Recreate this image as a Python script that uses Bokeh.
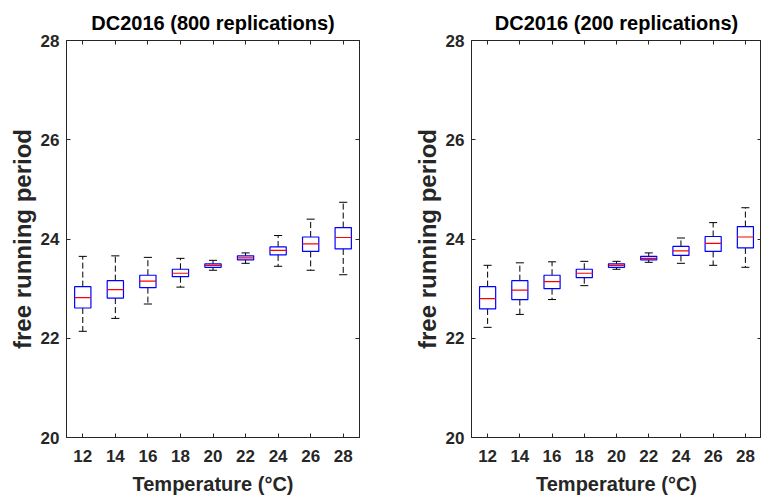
from bokeh.plotting import figure
from bokeh.layouts import row
from bokeh.models import Range1d, FixedTicker, LinearAxis
from bokeh.embed import file_html
from bokeh.resources import INLINE

temps = [12, 14, 16, 18, 20, 22, 24, 26, 28]
y_ticks = [20, 22, 24, 26, 28]
titles = ["DC2016 (800 replications)", "DC2016 (200 replications)"]

# 800 replications
lw_800 = [22.14, 22.40, 22.69, 23.03, 23.37, 23.51, 23.45, 23.37, 23.28]
q1_800 = [22.61, 22.81, 23.02, 23.24, 23.43, 23.58, 23.68, 23.75, 23.80]
med_800 = [22.82, 22.98, 23.15, 23.31, 23.47, 23.62, 23.77, 23.90, 24.03]
q3_800 = [23.04, 23.16, 23.27, 23.39, 23.50, 23.66, 23.84, 24.04, 24.23]
uw_800 = [23.65, 23.66, 23.63, 23.61, 23.57, 23.72, 24.07, 24.40, 24.74]

# 200 replications
lw_200 = [22.22, 22.48, 22.78, 23.06, 23.39, 23.53, 23.51, 23.47, 23.43]
q1_200 = [22.59, 22.78, 23.00, 23.22, 23.43, 23.58, 23.67, 23.75, 23.82]
med_200 = [22.80, 22.97, 23.14, 23.31, 23.47, 23.61, 23.76, 23.91, 24.04]
q3_200 = [23.04, 23.16, 23.27, 23.39, 23.50, 23.65, 23.85, 24.05, 24.25]
uw_200 = [23.47, 23.52, 23.54, 23.55, 23.55, 23.72, 24.02, 24.33, 24.63]

FONT = "Liberation Sans"
AX = "#262626"


def style_axis(ax, ticks, labels=True):
    ax.axis_line_color = AX
    ax.major_tick_line_color = AX
    ax.major_tick_in = 4
    ax.major_tick_out = 0
    ax.minor_tick_line_color = None
    ax.major_label_text_font = FONT
    ax.major_label_text_font_style = "bold"
    ax.major_label_text_color = AX
    ax.major_label_text_font_size = "17px"
    if not labels:
        ax.major_label_overrides = {t: "" for t in ticks}
        ax.major_label_text_font_size = "1px"
        ax.major_label_standoff = 0


def make(title, lw, q1, med, q3, uw, width, mbr):
    p = figure(width=width, height=501, x_range=Range1d(11, 29), y_range=Range1d(20, 28),
               output_backend="svg", toolbar_location=None, title=title,
               min_border_left=66, min_border_right=mbr, min_border_top=40, min_border_bottom=64)
    p.grid.visible = False
    p.outline_line_color = AX
    p.background_fill_color = "white"
    p.border_fill_color = "white"
    p.title.text_font = FONT
    p.title.text_font_size = "20px"
    p.title.text_font_style = "bold"
    p.title.text_color = "black"
    p.title.align = "center"
    p.title.standoff = 14

    p.xaxis.ticker = FixedTicker(ticks=temps)
    p.yaxis.ticker = FixedTicker(ticks=y_ticks)
    style_axis(p.xaxis[0], temps)
    style_axis(p.yaxis[0], y_ticks)
    p.xaxis.major_label_standoff = 12
    p.yaxis.major_label_standoff = 7
    p.xaxis.axis_label = "Temperature (°C)"
    p.yaxis.axis_label = "free running period"
    for ax, fs, so in ((p.xaxis[0], "20px", 8), (p.yaxis[0], "24px", 2)):
        ax.axis_label_text_font = FONT
        ax.axis_label_text_font_size = fs
        ax.axis_label_text_font_style = "bold"
        ax.axis_label_text_color = AX
        ax.axis_label_standoff = so

    top = LinearAxis(ticker=FixedTicker(ticks=temps))
    style_axis(top, temps, labels=False)
    p.add_layout(top, "above")
    right = LinearAxis(ticker=FixedTicker(ticks=y_ticks))
    style_axis(right, y_ticks, labels=False)
    p.add_layout(right, "right")

    xl_cap = [t - 0.25 for t in temps]
    xr_cap = [t + 0.25 for t in temps]
    xl_box = [t - 0.5 for t in temps]
    xr_box = [t + 0.5 for t in temps]

    p.segment(x0=temps, y0=q3, x1=temps, y1=uw, line_color="black", line_width=1, line_dash="6 3")
    p.segment(x0=temps, y0=q1, x1=temps, y1=lw, line_color="black", line_width=1, line_dash="6 3")
    p.segment(x0=xl_cap, y0=uw, x1=xr_cap, y1=uw, line_color="black", line_width=1)
    p.segment(x0=xl_cap, y0=lw, x1=xr_cap, y1=lw, line_color="black", line_width=1)
    p.quad(left=xl_box, right=xr_box, bottom=q1, top=q3, fill_color=None,
           line_color="#0000ff", line_width=1.2)
    p.segment(x0=xl_box, y0=med, x1=xr_box, y1=med, line_color="#ff0000", line_width=1.2)
    return p


p1 = make(titles[0], lw_800, q1_800, med_800, q3_800, uw_800, 405, 46)
p2 = make(titles[1], lw_200, q1_200, med_200, q3_200, uw_200, 356, 0)
layout = row(p1, p2)

open("out.html", "w").write(file_html(layout, INLINE))
